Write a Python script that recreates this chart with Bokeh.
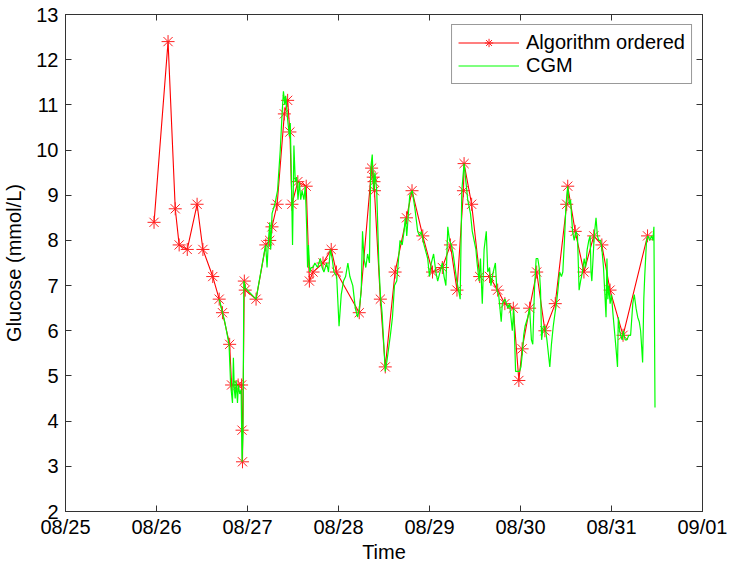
from bokeh.plotting import figure
from bokeh.models import LinearAxis, FixedTicker, Legend, LegendItem, Range1d
from bokeh.embed import file_html
from bokeh.resources import INLINE

# x values are days counted from 08/25 00:00
day_ticks = [0, 1, 2, 3, 4, 5, 6, 7]
day_labels = ["08/25", "08/26", "08/27", "08/28", "08/29", "08/30", "08/31", "09/01"]
glucose_ticks = list(range(2, 14))

# algorithm ordered readings (red stars)
algo_day = [0.973, 1.127, 1.206, 1.249, 1.338, 1.446, 1.51, 1.618, 1.689, 1.725,
            1.804, 1.825, 1.897, 1.935, 1.94, 1.945, 1.965, 1.975, 2.094, 2.201,
            2.244, 2.269, 2.326, 2.405, 2.441, 2.466, 2.488, 2.553, 2.645, 2.68,
            2.72, 2.83, 2.92, 2.977, 3.228, 3.364, 3.382, 3.39, 3.395, 3.46,
            3.514, 3.622, 3.747, 3.808, 3.926, 4.033, 4.141, 4.23, 4.302, 4.373,
            4.38, 4.463, 4.552, 4.66, 4.749, 4.828, 4.921, 4.982, 5.018, 5.10,
            5.178, 5.268, 5.382, 5.508, 5.519, 5.601, 5.697, 5.805, 5.894, 5.984,
            6.127, 6.396]
algo_val = [8.4, 12.4, 8.7, 7.9, 7.8, 8.8, 7.8, 7.2, 6.7, 6.4,
            5.7, 4.8, 4.8, 4.8, 3.8, 3.1, 7.1, 6.9, 6.7, 7.9,
            8.0, 8.3, 8.8, 10.8, 11.1, 10.4, 8.8, 9.3, 9.2, 7.1,
            7.3, 7.5, 7.8, 7.3, 6.4, 9.6, 9.4, 9.3, 9.1, 6.7,
            5.2, 7.3, 8.5, 9.1, 8.1, 7.3, 7.4, 7.9, 6.9, 9.1,
            9.7, 8.8, 7.2, 7.2, 6.9, 6.6, 6.5, 4.9, 5.6, 6.5,
            7.3, 6.0, 6.6, 8.8, 9.2, 8.2, 7.3, 8.1, 7.9, 6.9,
            5.9, 8.1]

# CGM trace (green line)
cgm_day = [1.689, 1.707, 1.75, 1.797, 1.815, 1.825, 1.835, 1.845, 1.855, 1.865,
           1.875, 1.89, 1.90, 1.915, 1.93, 1.94, 1.95, 1.96, 1.975, 2.094,
           2.19, 2.20, 2.215, 2.23, 2.245, 2.255, 2.27, 2.30, 2.33, 2.36,
           2.38, 2.395, 2.41, 2.42, 2.44, 2.46, 2.47, 2.48, 2.495, 2.51,
           2.525, 2.54, 2.555, 2.57, 2.585, 2.60, 2.62, 2.635, 2.65, 2.66,
           2.67, 2.685, 2.70, 2.72, 2.74, 2.77, 2.80, 2.82, 2.84, 2.87,
           2.89, 2.91, 2.93, 2.95, 2.98, 3.006, 3.03, 3.055, 3.078, 3.103,
           3.125, 3.157, 3.185, 3.21, 3.23, 3.25, 3.264, 3.28, 3.30, 3.32,
           3.34, 3.354, 3.371, 3.385, 3.40, 3.42, 3.443, 3.46, 3.479, 3.495,
           3.514, 3.53, 3.55, 3.57, 3.593, 3.615, 3.64, 3.676, 3.70, 3.72,
           3.735, 3.75, 3.783, 3.81, 3.84, 3.87, 3.89, 3.91, 3.94, 3.98,
           4.00, 4.02, 4.045, 4.07, 4.09, 4.115, 4.141, 4.16, 4.18, 4.201,
           4.22, 4.24, 4.26, 4.28, 4.30, 4.32, 4.337, 4.355, 4.38, 4.40,
           4.42, 4.45, 4.47, 4.49, 4.51, 4.523, 4.545, 4.56, 4.58, 4.60,
           4.624, 4.64, 4.66, 4.675, 4.70, 4.724, 4.74, 4.76, 4.788, 4.80,
           4.83, 4.86, 4.88, 4.91, 4.925, 4.946, 4.97, 4.99, 5.005, 5.02,
           5.035, 5.05, 5.08, 5.10, 5.12, 5.135, 5.153, 5.172, 5.19, 5.205,
           5.22, 5.232, 5.25, 5.27, 5.29, 5.322, 5.34, 5.36, 5.38, 5.395,
           5.411, 5.43, 5.45, 5.465, 5.483, 5.50, 5.519, 5.535, 5.55, 5.572,
           5.59, 5.61, 5.626, 5.644, 5.66, 5.68, 5.70, 5.715, 5.733, 5.751,
           5.765, 5.775, 5.784, 5.80, 5.81, 5.83, 5.845, 5.86, 5.88, 5.895,
           5.912, 5.925, 5.94, 5.95, 5.96, 5.97, 5.985, 6.00, 6.015, 6.037,
           6.05, 6.066, 6.075, 6.09, 6.10, 6.117, 6.13, 6.15, 6.17, 6.19,
           6.21, 6.234, 6.25, 6.27, 6.288, 6.305, 6.32, 6.342, 6.355, 6.365,
           6.385, 6.40, 6.42, 6.44, 6.455, 6.466, 6.478]
cgm_val = [6.7, 6.55, 6.2, 5.7, 4.8, 4.6, 4.4, 5.4, 4.7, 4.5,
           4.9, 4.4, 4.8, 4.6, 4.7, 3.1, 3.7, 7.1, 6.95, 6.7,
           7.8, 7.9, 7.4, 8.0, 8.4, 7.8, 8.6, 8.8, 9.1, 10.0,
           10.8, 11.3, 11.0, 11.2, 10.7, 10.3, 10.6, 9.6, 7.9, 10.1,
           9.3, 9.4, 8.9, 9.3, 8.9, 9.1, 8.9, 9.2, 8.3, 7.4,
           7.9, 7.3, 7.4, 7.4, 7.5, 7.4, 7.6, 7.4, 7.3, 7.5,
           7.3, 7.8, 7.6, 7.3, 7.2, 6.1, 6.8, 7.1, 7.2, 7.5,
           7.2, 7.0, 6.5, 6.3, 6.5, 6.9, 8.2, 7.6, 7.4, 7.7,
           7.5, 9.6, 9.9, 9.1, 9.5, 9.1, 7.5, 6.8, 6.4, 5.8,
           5.1, 5.3, 5.6, 5.9, 6.3, 7.0, 7.1, 8.0, 7.9, 8.2,
           8.5, 8.1, 9.0, 9.1, 8.7, 8.2, 8.1, 8.2, 7.9, 7.6,
           7.2, 7.5, 7.7, 7.3, 7.1, 7.3, 7.5, 7.2, 7.0, 8.3,
           8.0, 7.9, 7.7, 7.4, 7.1, 6.9, 6.7, 9.1, 9.7, 9.3,
           8.9, 8.6, 8.2, 8.0, 7.8, 7.5, 7.1, 7.6, 6.6, 7.8,
           8.2, 7.3, 7.4, 7.0, 7.3, 7.5, 6.9, 6.8, 6.2, 6.6,
           6.7, 6.5, 6.6, 6.0, 6.5, 5.1, 5.1, 5.1, 5.2, 5.5,
           5.9, 6.1, 6.3, 6.5, 5.8, 5.7, 6.9, 7.6, 7.6, 7.4,
           6.9, 5.8, 6.1, 6.1, 5.8, 5.2, 5.7, 6.1, 6.4, 6.6,
           6.9, 7.3, 7.2, 7.3, 8.0, 8.8, 9.2, 8.8, 8.9, 8.2,
           8.0, 8.2, 8.1, 6.9, 7.1, 7.3, 7.6, 7.4, 7.8, 8.0,
           8.1, 7.3, 7.1, 7.7, 8.1, 8.5, 8.1, 8.0, 8.0, 7.8,
           7.4, 6.9, 6.3, 7.6, 6.7, 7.0, 6.6, 6.8, 6.4, 5.9,
           5.6, 5.2, 6.3, 6.0, 5.9, 5.8, 6.0, 5.8, 5.8, 5.9,
           5.9, 6.6, 6.8, 6.5, 6.3, 6.2, 6.0, 5.3, 6.7, 7.2,
           8.0, 8.1, 8.0, 8.1, 8.0, 8.3, 4.3]

axis_color = "#333333"
font = "Liberation Sans"

p = figure(width=727, height=565, x_range=Range1d(0, 7), y_range=Range1d(2, 13),
           output_backend="svg", toolbar_location=None,
           x_axis_label="Time", y_axis_label="Glucose (mmol/L)",
           min_border_left=64, min_border_right=25, min_border_top=14, min_border_bottom=48)

p.xgrid.visible = False
p.ygrid.visible = False
p.outline_line_color = axis_color

p.xaxis.ticker = FixedTicker(ticks=day_ticks)
p.xaxis.major_label_overrides = dict(zip(day_ticks, day_labels))
p.yaxis.ticker = FixedTicker(ticks=glucose_ticks)

for ax in [p.xaxis[0], p.yaxis[0]]:
    ax.axis_line_color = axis_color
    ax.major_tick_line_color = axis_color
    ax.major_tick_in = 6
    ax.major_tick_out = 0
    ax.minor_tick_line_color = None
    ax.major_label_text_font = font
    ax.major_label_text_font_size = "20px"
    ax.major_label_text_color = "black"
    ax.axis_label_text_font = font
    ax.axis_label_text_font_size = "20px"
    ax.axis_label_text_font_style = "normal"
    ax.axis_label_text_color = "black"

p.xaxis.major_label_standoff = 4
p.xaxis.axis_label_standoff = 0
p.yaxis.major_label_standoff = 7
p.yaxis.axis_label_standoff = 8

# box axes on top and right with inward ticks, no labels
top = LinearAxis(ticker=FixedTicker(ticks=day_ticks))
right = LinearAxis(ticker=FixedTicker(ticks=glucose_ticks))
for ax in [top, right]:
    ax.axis_line_color = axis_color
    ax.major_tick_line_color = axis_color
    ax.major_tick_in = 6
    ax.major_tick_out = 0
    ax.minor_tick_line_color = None
    ax.major_label_text_font_size = "1px"
    ax.major_label_text_color = None
    ax.major_label_standoff = 0
p.add_layout(top, "above")
p.add_layout(right, "right")

red_line = p.line(algo_day, algo_val, line_color="#ff0000", line_width=1.1)
red_pts = p.scatter(algo_day, algo_val, marker="asterisk", size=13,
                    line_color="#ff2020", line_width=1)
green_line = p.line(cgm_day, cgm_val, line_color="#00ff00", line_width=1.2)

legend = Legend(items=[
    LegendItem(label="Algorithm ordered", renderers=[red_line, red_pts]),
    LegendItem(label="CGM", renderers=[green_line]),
], location="top_right")
legend.margin = 10
legend.padding = 6
legend.spacing = 0
legend.label_height = 21
legend.glyph_height = 21
legend.glyph_width = 61
legend.label_standoff = 7
legend.label_text_font = font
legend.label_text_font_size = "20px"
legend.label_text_color = "black"
legend.border_line_color = axis_color
legend.border_line_width = 1
legend.background_fill_alpha = 1
p.add_layout(legend)

open("out.html", "w").write(file_html(p, INLINE))
